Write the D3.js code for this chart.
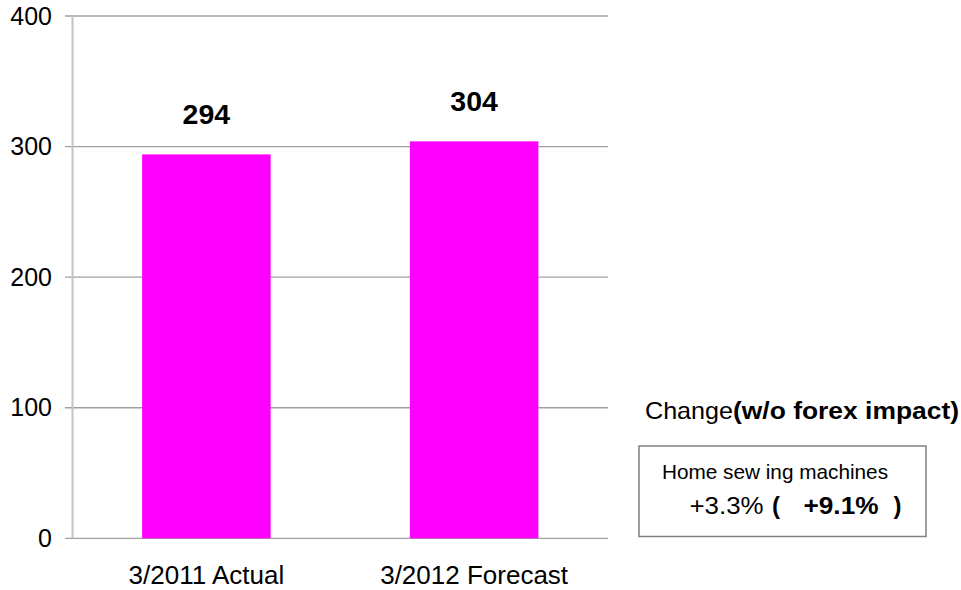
<!DOCTYPE html>
<html>
<head>
<meta charset="utf-8">
<script src="https://cdn.jsdelivr.net/npm/d3@7"></script>
<style>
  html, body { margin: 0; padding: 0; background: #fff; }
  svg { display: block; font-family: "Liberation Sans", Arial, sans-serif; }
</style>
</head>
<body>
<svg id="chart" width="961" height="590"></svg>
<script>
const categories = ["3/2011 Actual", "3/2012 Forecast"];
const values = [294, 304];
const yTicks = [0, 100, 200, 300, 400];
const legendTitle = ["Change", "(w/o forex impact)"];
const legendItem = "Home sew ing machines";
const changeText = ["+3.3%", "(", "+9.1%", ")"];

const svg = d3.select("#chart");
const x0 = 72.5, x1 = 608, yBottom = 538.3, yTop = 16;

const x = d3.scaleBand().domain(categories).range([x0, x1])
  .paddingInner(0.52).paddingOuter(0.26);
const y = d3.scaleLinear().domain([0, 400]).range([yBottom, yTop]);

// gridlines
svg.append("g").selectAll("line").data(yTicks).join("line")
  .attr("x1", 65).attr("x2", x1)
  .attr("y1", d => y(d)).attr("y2", d => y(d))
  .attr("stroke", "#a0a0a0").attr("stroke-width", 1.3);

// y axis line
svg.append("line")
  .attr("x1", x0).attr("x2", x0).attr("y1", y(400)).attr("y2", y(0))
  .attr("stroke", "#c4c4c4").attr("stroke-width", 2);

// y tick labels
svg.append("g").selectAll("text").data(yTicks).join("text")
  .attr("x", 52).attr("y", d => y(d)).attr("dy", "0.35em")
  .attr("text-anchor", "end").attr("font-size", 25).attr("fill", "#000")
  .text(d => d);

// bars
svg.append("g").selectAll("rect").data(values).join("rect")
  .attr("x", (d, i) => x(categories[i]))
  .attr("width", x.bandwidth())
  .attr("y", d => y(d))
  .attr("height", d => y(0) - y(d))
  .attr("fill", "#ff00ff");

// value labels
svg.append("g").selectAll("text").data(values).join("text")
  .attr("x", (d, i) => x(categories[i]) + x.bandwidth() / 2)
  .attr("y", d => y(d) - 30)
  .attr("text-anchor", "middle").attr("font-size", 28.5).attr("font-weight", "bold")
  .text(d => d);

// category labels
svg.append("g").selectAll("text").data(categories).join("text")
  .attr("x", d => x(d) + x.bandwidth() / 2)
  .attr("y", 584)
  .attr("text-anchor", "middle").attr("font-size", 26)
  .text(d => d);

// legend title
svg.append("text").attr("x", 645).attr("y", 419).attr("font-size", 24)
  .attr("textLength", 88).attr("lengthAdjust", "spacingAndGlyphs")
  .text(legendTitle[0]);
svg.append("text").attr("x", 733).attr("y", 419).attr("font-size", 24)
  .attr("font-weight", "bold")
  .attr("textLength", 226).attr("lengthAdjust", "spacingAndGlyphs")
  .text(legendTitle[1]);

// legend box
svg.append("rect").attr("x", 639).attr("y", 446).attr("width", 287).attr("height", 90.5)
  .attr("fill", "#fff").attr("stroke", "#808080").attr("stroke-width", 1.5);

svg.append("text").attr("x", 662).attr("y", 479).attr("font-size", 21)
  .attr("textLength", 226).attr("lengthAdjust", "spacingAndGlyphs")
  .text(legendItem);

const cx = [689.5, 772, 803.5, 893.5];
const cw = ["normal", "bold", "bold", "bold"];
const cl = [74, null, 75, null];
svg.append("g").selectAll("text").data(changeText).join("text")
  .attr("x", (d, i) => cx[i]).attr("y", 513.5)
  .attr("font-size", 24).attr("font-weight", (d, i) => cw[i])
  .attr("textLength", (d, i) => cl[i])
  .attr("lengthAdjust", "spacingAndGlyphs")
  .text(d => d);
</script>
</body>
</html>
